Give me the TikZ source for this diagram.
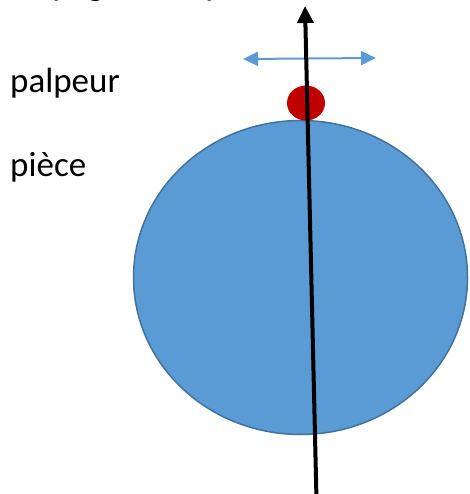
\documentclass[tikz,border=0pt]{standalone}
\usepackage{fontspec}
\setmainfont{Carlito}
\usetikzlibrary{shapes.geometric,arrows.meta}
\definecolor{pieceblue}{HTML}{5B9BD5}
\definecolor{pieceedge}{HTML}{41719C}
\definecolor{probered}{HTML}{C00000}
\begin{document}
\begin{tikzpicture}[x=1pt,y=-1pt,
  lbl/.style={anchor=base west, inner sep=0pt, font=\fontsize{35}{42}\selectfont},
  piece/.style={ellipse, fill=pieceblue, draw=pieceedge, line width=1.5pt, inner sep=0pt, minimum width=334pt, minimum height=314pt},
  probe/.style={ellipse, fill=probered, inner sep=0pt, minimum width=38pt, minimum height=35pt},
  axis/.style={line width=4pt, -{Triangle[length=17pt,width=16pt]}},
  move/.style={draw=pieceblue, line width=2pt, {Triangle[length=15pt,width=14pt]}-{Triangle[length=15pt,width=14pt]}}]
\useasboundingbox (0,0) rectangle (469,494);
\node[lbl] (title) at (10,-4.5) {Palpage de la pièce};
\node[lbl] (lpalpeur) at (10,93) {palpeur};
\node[lbl] (lpiece) at (10,177) {pièce};
\node[piece] (P) at (300.5,277.5) {};
\node[probe] (R) at (306,103) {};
\coordinate (mL) at (243,59);
\coordinate (mR) at (376,58);
\draw[move] (mL) -- (mR);
\coordinate (aB) at (316.5,500);
\coordinate (aT) at (305,6);
\draw[axis] (aB) -- (aT);
\end{tikzpicture}
\end{document}
